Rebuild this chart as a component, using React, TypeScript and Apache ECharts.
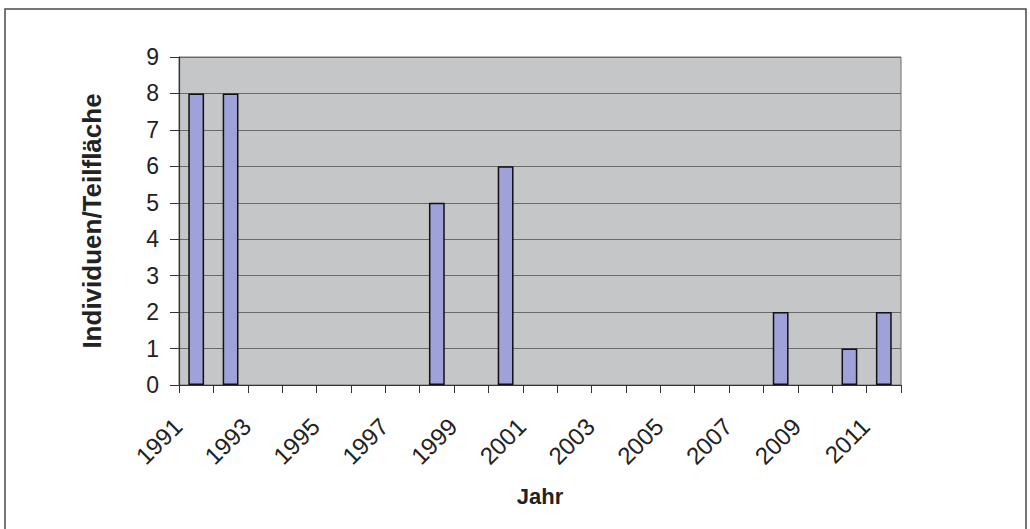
import React, { useEffect, useRef } from "react";
import * as echarts from "echarts";

const years = [
  "1991", "1992", "1993", "1994", "1995", "1996", "1997", "1998", "1999", "2000",
  "2001", "2002", "2003", "2004", "2005", "2006", "2007", "2008", "2009", "2010", "2011",
];
const individuals = [8, 8, 0, 0, 0, 0, 0, 5, 0, 6, 0, 0, 0, 0, 0, 0, 0, 2, 0, 1, 2];
const yTitle = "Individuen/Teilfläche";
const xTitle = "Jahr";

export default function App() {
  const ref = useRef<HTMLDivElement>(null);
  useEffect(() => {
    if (!ref.current) return;
    const chart = echarts.init(ref.current, null, { renderer: "svg" });
    chart.setOption({
      animation: false,
      backgroundColor: "#ffffff",
      textStyle: { fontFamily: "Liberation Sans, Arial, sans-serif" },
      graphic: [
        {
          type: "rect",
          shape: { x: 5, y: 9, width: 1021, height: 540 },
          style: { fill: "none", stroke: "#4a4a4a", lineWidth: 1.5 },
          silent: true,
        },
      ],
      grid: {
        left: 179,
        right: 129,
        top: 57,
        bottom: 144,
        show: true,
        backgroundColor: "#c4c6c8",
        borderColor: "#707070",
        borderWidth: 1,
      },
      xAxis: {
        type: "category",
        data: years,
        boundaryGap: true,
        name: xTitle,
        nameLocation: "middle",
        nameGap: 100,
        nameTextStyle: { fontSize: 22, fontWeight: "bold", color: "#222" },
        axisLine: { show: true, lineStyle: { color: "#333", width: 1.2 } },
        axisTick: { show: true, interval: 0, length: 8, lineStyle: { color: "#333" } },
        axisLabel: {
          interval: 1,
          rotate: 45,
          fontSize: 24,
          color: "#222",
          margin: 19,
          padding: [0, 26, 0, 0],
        },
        splitLine: { show: false },
      },
      yAxis: {
        type: "value",
        min: 0,
        max: 9,
        interval: 1,
        name: yTitle,
        nameLocation: "middle",
        nameGap: 74,
        nameTextStyle: { fontSize: 26, fontWeight: "bold", color: "#222" },
        axisLine: { show: true, lineStyle: { color: "#333", width: 1.2 } },
        axisTick: { show: true, inside: false, length: 9, lineStyle: { color: "#333" } },
        axisLabel: { fontSize: 23, color: "#222", margin: 20 },
        splitLine: { show: true, lineStyle: { color: "#6a6a6a", width: 1 } },
      },
      series: [
        {
          type: "bar",
          data: individuals.map((v) => (v === 0 ? "-" : v)),
          barWidth: "46%",
          itemStyle: { color: "#9fa2d8", borderColor: "#111", borderWidth: 1.5 },
        },
      ],
    });
    return () => chart.dispose();
  }, []);
  return (
    <div
      ref={ref}
      style={{ position: "fixed", left: 0, top: 0, width: 1030, height: 529 }}
    />
  );
}
